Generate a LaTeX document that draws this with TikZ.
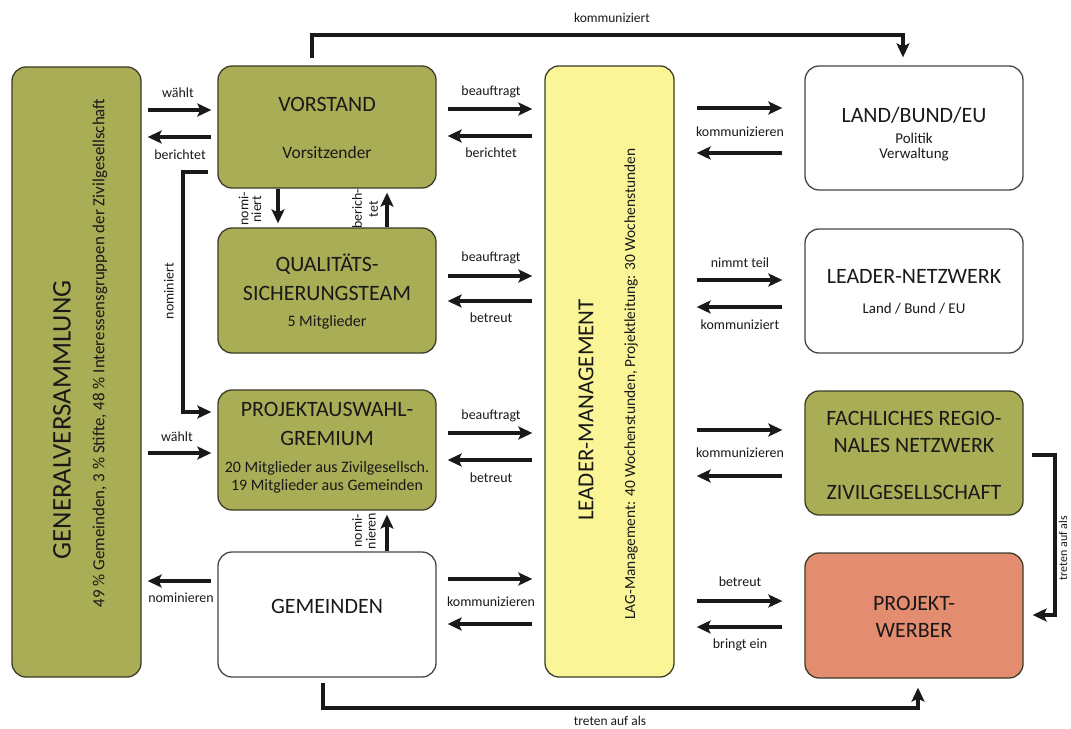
\documentclass[tikz,border=0pt]{standalone}
\usepackage{fontspec}
\setmainfont{Carlito}
\usetikzlibrary{arrows.meta}
\definecolor{gvolive}{RGB}{169,173,85}
\definecolor{lmyellow}{RGB}{250,245,150}
\definecolor{pwsalmon}{RGB}{228,140,112}
\definecolor{txtcol}{RGB}{25,25,25}
\definecolor{edgedark}{RGB}{60,60,40}
\definecolor{edgegray}{RGB}{70,70,70}
\definecolor{arrcol}{RGB}{25,25,25}
\begin{document}
\begin{tikzpicture}[x=1bp,y=-1bp,
  box/.style={draw=edgedark, line width=1.3bp, rounded corners=14bp, inner sep=0pt},
  olivebox/.style={box, fill=gvolive},
  whitebox/.style={box, fill=white, draw=edgegray},
  ttl/.style={text=txtcol, inner sep=0pt, font=\fontsize{22}{26}\selectfont},
  sub/.style={text=txtcol, inner sep=0pt, font=\fontsize{16}{19}\selectfont},
  lbl/.style={text=txtcol, inner sep=0pt, font=\fontsize{14}{15}\selectfont, align=center},
  small/.style={text=txtcol, inner sep=0pt, font=\fontsize{13.5}{15}\selectfont},
  arr/.style={draw=arrcol, line width=4bp, -{Stealth[length=14bp,width=13bp,inset=3bp]}}
]
\fill[white] (0,0) rectangle (1071,729);
\useasboundingbox (0,0) rectangle (1071,729);

% boxes
\node[olivebox, minimum width=129bp, minimum height=610bp] (gv) at (76.5,372) {};
\node[olivebox, minimum width=218bp, minimum height=122bp] (vor) at (327,127) {};
\node[olivebox, minimum width=218bp, minimum height=125bp] (qst) at (327,290.5) {};
\node[olivebox, minimum width=218bp, minimum height=120bp] (pag) at (327,450) {};
\node[whitebox, minimum width=218bp, minimum height=125bp] (gem) at (327,614.5) {};
\node[box, fill=lmyellow, minimum width=129bp, minimum height=611bp] (lm) at (609.5,371.5) {};
\node[whitebox, minimum width=218bp, minimum height=124bp] (land) at (914,128) {};
\node[whitebox, minimum width=218bp, minimum height=124bp] (net) at (914,291) {};
\node[olivebox, minimum width=218bp, minimum height=124bp] (fach) at (914,453) {};
\node[box, fill=pwsalmon, minimum width=218bp, minimum height=125bp] (pw) at (914,615.5) {};

% texts in boxes
\node[ttl, rotate=90, font=\fontsize{27}{30}\selectfont] (gvT) at (62,420) {GENERALVERSAMMLUNG};
\node[sub, rotate=90, font=\fontsize{17}{19}\selectfont] (gvS) at (100,353) {49 \% Gemeinden, 3 \% Stifte, 48 \% Interessensgruppen der Zivilgesellschaft};
\node[ttl] (vorT) at (327,104) {VORSTAND};
\node[sub, font=\fontsize{17.5}{20}\selectfont] (vorS) at (327,153) {Vorsitzender};
\node[ttl] (qstT1) at (327,264) {QUALITÄTS-};
\node[ttl] (qstT2) at (327,293) {SICHERUNGSTEAM};
\node[sub] (qstS) at (327,322) {5 Mitglieder};
\node[ttl] (pagT1) at (327,409) {PROJEKTAUSWAHL-};
\node[ttl] (pagT2) at (327,438) {GREMIUM};
\node[sub] (pagS1) at (327,468) {20 Mitglieder aus Zivilgesellsch.};
\node[sub] (pagS2) at (327,486) {19 Mitglieder aus Gemeinden};
\node[ttl] (gemT) at (327,606) {GEMEINDEN};
\node[ttl, rotate=90, font=\fontsize{23}{27}\selectfont] (lmT) at (586,410) {LEADER-MANAGEMENT};
\node[sub, rotate=90, font=\fontsize{15.5}{18}\selectfont] (lmS) at (631,384) {LAG-Management: 40 Wochenstunden, Projektleitung: 30 Wochenstunden};
\node[ttl] (landT) at (914,115) {LAND/BUND/EU};
\node[sub, font=\fontsize{15}{18}\selectfont] (landS1) at (914,138) {Politik};
\node[sub, font=\fontsize{15}{18}\selectfont] (landS2) at (914,155) {Verwaltung};
\node[ttl] (netT) at (914,276) {LEADER-NETZWERK};
\node[sub, font=\fontsize{15}{18}\selectfont] (netS) at (914,309) {Land / Bund / EU};
\node[ttl] (fachT1) at (914,418) {FACHLICHES REGIO-};
\node[ttl] (fachT2) at (914,445) {NALES NETZWERK};
\node[ttl] (fachT3) at (914,492) {ZIVILGESELLSCHAFT};
\node[ttl] (pwT1) at (914,603) {PROJEKT-};
\node[ttl] (pwT2) at (914,630) {WERBER};

% left connectors
\draw[arr, shorten <=6bp, shorten >=6bp] (gv.east |- 0,110) -- (vor.west |- 0,110);
\node[lbl] (l1) at (178,93) {wählt};
\draw[arr, shorten <=6bp, shorten >=6bp] (vor.west |- 0,137) -- (gv.east |- 0,137);
\node[lbl] (l2) at (180,155) {berichtet};
\coordinate (nb1) at (183,172);
\coordinate (nb2) at (183,412);
\draw[arr, line join=miter, shorten <=9bp, shorten >=6bp] (vor.west |- 0,172) -- (nb1) -- (nb2) -- (pag.west |- 0,412);
\node[lbl, rotate=90] (l3) at (169,291) {nominiert};
\draw[arr, shorten <=6bp, shorten >=6bp] (gv.east |- 0,453) -- (pag.west |- 0,453);
\node[lbl] (l4) at (177,437) {wählt};
\draw[arr, shorten <=6bp, shorten >=6bp] (gem.west |- 0,581) -- (gv.east |- 0,581);
\node[lbl] (l5) at (181,598) {nominieren};

% vertical connectors
\draw[arr, shorten >=4bp] (vor.south -| 278,0) -- (qst.north -| 278,0);
\node[lbl, rotate=90, font=\fontsize{14}{13}\selectfont] (l6) at (250,209) {nomi-\\niert};
\draw[arr, shorten >=4bp] (qst.north -| 387,0) -- (vor.south -| 387,0);
\node[lbl, rotate=90, font=\fontsize{14}{16}\selectfont] (l7) at (365,209) {berich-\\tet};
\draw[arr, shorten >=4bp] (gem.north -| 387,0) -- (pag.south -| 387,0);
\node[lbl, rotate=90, font=\fontsize{14}{14}\selectfont] (l8) at (364,531) {nomi-\\nieren};

% middle connectors
\draw[arr, shorten <=11bp, shorten >=12bp] (vor.east |- 0,109) -- (lm.west |- 0,109);
\node[lbl] (m1) at (491,92) {beauftragt};
\draw[arr, shorten <=12bp, shorten >=11bp] (lm.west |- 0,136) -- (vor.east |- 0,136);
\node[lbl] (m2) at (491,153) {berichtet};
\draw[arr, shorten <=11bp, shorten >=12bp] (qst.east |- 0,276) -- (lm.west |- 0,276);
\node[lbl] (m3) at (491,258) {beauftragt};
\draw[arr, shorten <=12bp, shorten >=11bp] (lm.west |- 0,301) -- (qst.east |- 0,301);
\node[lbl] (m4) at (491,318) {betreut};
\draw[arr, shorten <=11bp, shorten >=12bp] (pag.east |- 0,433) -- (lm.west |- 0,433);
\node[lbl] (m5) at (491,416) {beauftragt};
\draw[arr, shorten <=12bp, shorten >=11bp] (lm.west |- 0,460) -- (pag.east |- 0,460);
\node[lbl] (m6) at (491,478) {betreut};
\draw[arr, shorten <=11bp, shorten >=12bp] (gem.east |- 0,579) -- (lm.west |- 0,579);
\draw[arr, shorten <=12bp, shorten >=11bp] (lm.west |- 0,624) -- (gem.east |- 0,624);
\node[lbl] (m7) at (491,602) {kommunizieren};

% right connectors
\draw[arr, shorten <=22bp, shorten >=22bp] (lm.east |- 0,108) -- (land.west |- 0,108);
\draw[arr, shorten <=22bp, shorten >=22bp] (land.west |- 0,153) -- (lm.east |- 0,153);
\node[lbl] (r1) at (740,132) {kommunizieren};
\draw[arr, shorten <=22bp, shorten >=22bp] (lm.east |- 0,280) -- (net.west |- 0,280);
\node[lbl] (r2) at (740,263) {nimmt teil};
\draw[arr, shorten <=22bp, shorten >=22bp] (net.west |- 0,307) -- (lm.east |- 0,307);
\node[lbl] (r3) at (740,325) {kommuniziert};
\draw[arr, shorten <=22bp, shorten >=22bp] (lm.east |- 0,430) -- (fach.west |- 0,430);
\draw[arr, shorten <=22bp, shorten >=22bp] (fach.west |- 0,476) -- (lm.east |- 0,476);
\node[lbl] (r4) at (740,453) {kommunizieren};
\draw[arr, shorten <=22bp, shorten >=22bp] (lm.east |- 0,601) -- (pw.west |- 0,601);
\node[lbl] (r5) at (740,582) {betreut};
\draw[arr, shorten <=22bp, shorten >=22bp] (pw.west |- 0,627) -- (lm.east |- 0,627);
\node[lbl] (r6) at (740,645) {bringt ein};

% top connector
\coordinate (kt1) at (312,35);
\coordinate (kt2) at (903,35);
\draw[arr, line join=miter, shorten <=7bp, shorten >=8bp] (vor.north -| 312,0) -- (kt1) -- (kt2) -- (land.north -| 903,0);
\node[small] (t1) at (612,18) {kommuniziert};

% bottom connector
\coordinate (kb1) at (323,708);
\coordinate (kb2) at (918,708);
\draw[arr, line join=miter, shorten <=5bp, shorten >=9bp] (gem.south -| 323,0) -- (kb1) -- (kb2) -- (pw.south -| 918,0);
\node[small] (b1) at (610,721) {treten auf als};

% right bracket
\coordinate (kr1) at (1055,455);
\coordinate (kr2) at (1055,615);
\draw[arr, line join=miter, shorten <=8bp, shorten >=9bp] (fach.east |- 0,455) -- (kr1) -- (kr2) -- (pw.east |- 0,615);
\node[small, rotate=90, anchor=north, font=\fontsize{12}{13}\selectfont] (rb) at (1058.5,548) {treten auf als};
\end{tikzpicture}
\end{document}
